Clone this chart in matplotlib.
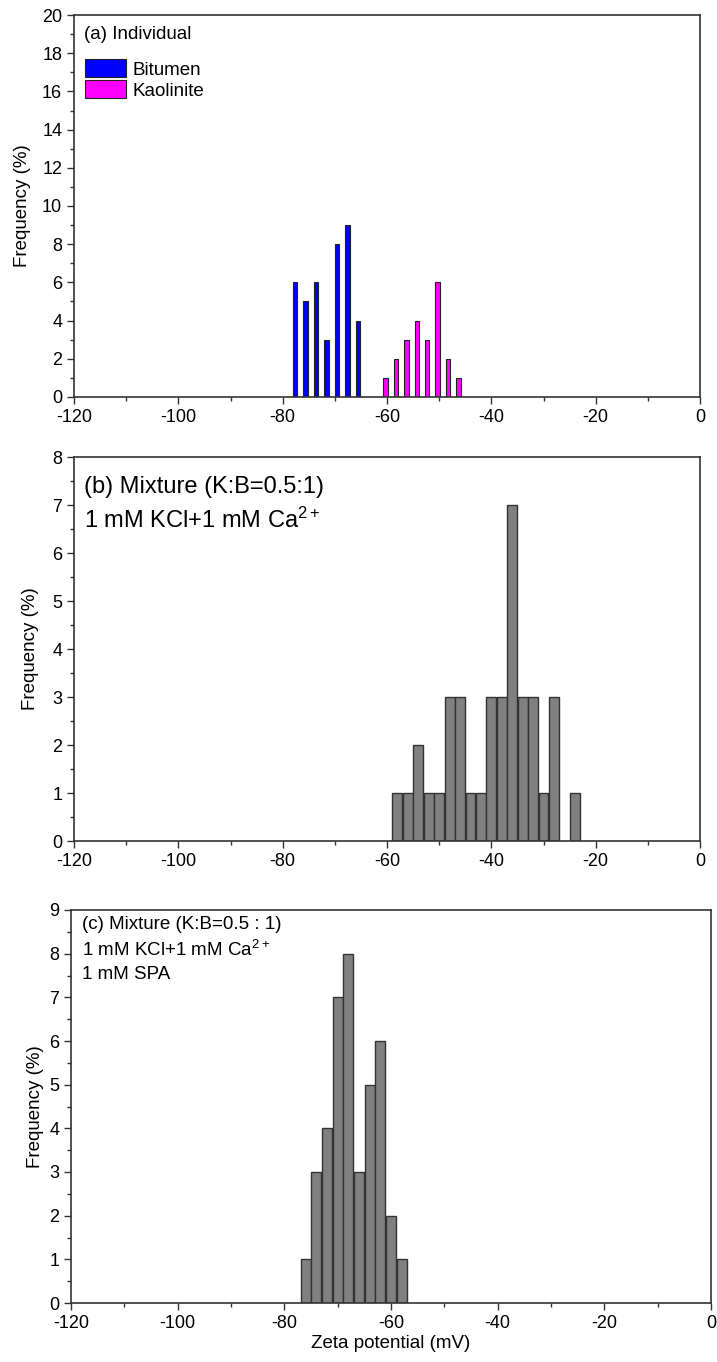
import matplotlib

matplotlib.use("Agg")
import matplotlib.pyplot as plt
from matplotlib.ticker import MultipleLocator

plt.rcParams["font.family"] = ["Liberation Sans", "DejaVu Sans"]
plt.rcParams["mathtext.default"] = "regular"
plt.rcParams["axes.unicode_minus"] = False

# (a) individual
bitumen_x = [-77.6, -75.6, -73.6, -71.6, -69.6, -67.6, -65.6]
bitumen_freq = [6, 5, 6, 3, 8, 9, 4]
kaolinite_x = [-60.3, -58.3, -56.3, -54.3, -52.3, -50.3, -48.3, -46.3]
kaolinite_freq = [1, 2, 3, 4, 3, 6, 2, 1]

# (b) mixture, KCl + Ca2+
mix_ca_x = [-58, -56, -54, -52, -50, -48, -46, -44, -42, -40, -38, -36, -34, -32, -30, -28, -24]
mix_ca_freq = [1, 1, 2, 1, 1, 3, 3, 1, 1, 3, 3, 7, 3, 3, 1, 3, 1]

# (c) mixture, KCl + Ca2+ + SPA
mix_spa_x = [-76, -74, -72, -70, -68, -66, -64, -62, -60, -58]
mix_spa_freq = [1, 3, 4, 7, 8, 3, 5, 6, 2, 1]

x_ticks = [-120, -100, -80, -60, -40, -20, 0]

W, H = 717, 1362
fig = plt.figure(figsize=(W / 100, H / 100), dpi=100)
fig.patch.set_facecolor("white")


def px_axes(left, top, right, bottom):
    return fig.add_axes([left / W, 1 - bottom / H, (right - left) / W, (bottom - top) / H])


def style(ax, ymax, ymajor, yminor):
    ax.set_xlim(-120, 0)
    ax.set_ylim(0, ymax)
    ax.set_xticks(x_ticks)
    ax.xaxis.set_minor_locator(MultipleLocator(10))
    ax.yaxis.set_major_locator(MultipleLocator(ymajor))
    ax.yaxis.set_minor_locator(MultipleLocator(yminor))
    ax.tick_params(which="major", direction="out", length=5, width=1, labelsize=13, color="#333333")
    ax.tick_params(which="minor", direction="out", length=3, width=1, color="#333333")
    ax.tick_params(top=False, right=False)
    for sp in ax.spines.values():
        sp.set_color("#333333")
        sp.set_linewidth(1.2)
    ax.set_ylabel("Frequency (%)", fontsize=13.5)


# 面板 a
ax1 = px_axes(74, 15, 700, 397)
ax1.bar(bitumen_x, bitumen_freq, width=0.85, color="#0000FF", edgecolor="#222222", linewidth=0.8, label="Bitumen")
ax1.bar(kaolinite_x, kaolinite_freq, width=0.85, color="#FF00FF", edgecolor="#222222", linewidth=0.8, label="Kaolinite")
style(ax1, 20, 2, 1)
ax1.text(0.016, 0.948, "(a) Individual", transform=ax1.transAxes, fontsize=13.5, va="center", ha="left")
ax1.legend(loc="upper left", bbox_to_anchor=(0.005, 0.904), frameon=False, fontsize=13.5,
           handlelength=2.2, handleheight=1.1, labelspacing=0.1, handletextpad=0.35,
           borderaxespad=0.2, borderpad=0.2)
ax1.yaxis.set_label_coords(-0.068, 0.5)

# 面板 b
ax2 = px_axes(74, 457, 700, 841)
ax2.bar(mix_ca_x, mix_ca_freq, width=1.9, color="#808080", edgecolor="#333333", linewidth=1.0)
style(ax2, 8, 1, 0.5)
ax2.text(0.016, 0.922, "(b) Mixture (K:B=0.5:1)", transform=ax2.transAxes, fontsize=17, va="center", ha="left")
ax2.text(0.016, 0.836, "1 mM KCl+1 mM Ca$^{2+}$", transform=ax2.transAxes, fontsize=17, va="center", ha="left")
ax2.yaxis.set_label_coords(-0.0555, 0.5)

# 面板 c
ax3 = px_axes(71, 910, 711, 1303)
ax3.bar(mix_spa_x, mix_spa_freq, width=1.9, color="#808080", edgecolor="#333333", linewidth=1.0)
style(ax3, 9, 1, 0.5)
ax3.text(0.017, 0.962, "(c) Mixture (K:B=0.5 : 1)", transform=ax3.transAxes, fontsize=13.5, va="center", ha="left")
ax3.text(0.017, 0.898, "1 mM KCl+1 mM Ca$^{2+}$", transform=ax3.transAxes, fontsize=13.5, va="center", ha="left")
ax3.text(0.017, 0.835, "1 mM SPA", transform=ax3.transAxes, fontsize=13.5, va="center", ha="left")
ax3.set_xlabel("Zeta potential (mV)", fontsize=13.5, labelpad=2)
ax3.yaxis.set_label_coords(-0.042, 0.5)

fig.savefig("out.png", dpi=100)
